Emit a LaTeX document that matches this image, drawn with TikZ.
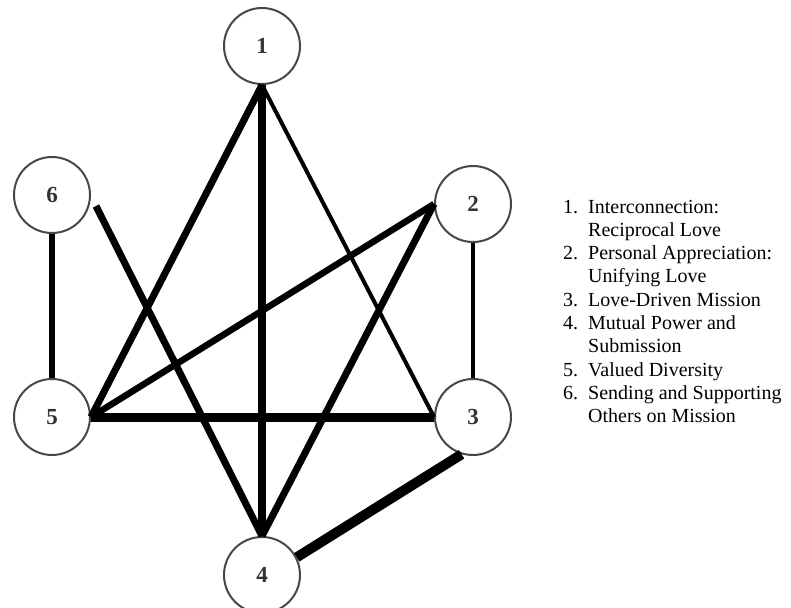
\documentclass[tikz,border=0pt]{standalone}
\usepackage{fontspec}
\setmainfont{Liberation Serif}
\begin{document}
\begin{tikzpicture}[x=1pt,y=-1pt,
  circ/.style={circle,draw=black!72,line width=2pt,minimum size=76pt,inner sep=0pt,
    font=\fontsize{23}{23}\selectfont\bfseries,text=black!80},
  edge/.style={line width=#1,black}]
\clip (0,0) rectangle (791,607);
\fill[white] (0,0) rectangle (791,607);
\node[circ] (n1) at (262,46) {1};
\node[circ] (n6) at (52,195) {6};
\node[circ] (n2) at (473,204) {2};
\node[circ] (n5) at (52,417) {5};
\node[circ] (n3) at (473,417) {3};
\node[circ] (n4) at (262,575) {4};
\coordinate (a6) at (96,206);
\draw[edge=8pt] (n1.south) -- (n4.north);
\draw[edge=7pt] (n1.south) -- (n5.east);
\draw[edge=4pt] (n1.south) -- (n3.west);
\draw[edge=7pt] (a6) -- (n4.north);
\draw[edge=5.5pt] (n6.south) -- (n5.north);
\draw[edge=6.5pt] (n2.west) -- (n5.east);
\draw[edge=7pt] (n2.west) -- (n4.north);
\draw[edge=4.5pt] (n2.south) -- (n3.north);
\draw[edge=9pt] (n5.east) -- (n3.west);
\draw[edge=10pt] (n3.-107) -- (n4.27);
\node[anchor=base west,inner sep=0pt,font=\fontsize{20}{23.3}\selectfont] (legend) at (563,213)
{\begin{tabular}[t]{@{}p{25pt}@{}l@{}}
1. & Interconnection:\\
   & Reciprocal Love\\
2. & Personal Appreciation:\\
   & Unifying Love\\
3. & Love-Driven Mission\\
4. & Mutual Power and\\
   & Submission\\
5. & Valued Diversity\\
6. & Sending and Supporting\\
   & Others on Mission
\end{tabular}};
\end{tikzpicture}
\end{document}
